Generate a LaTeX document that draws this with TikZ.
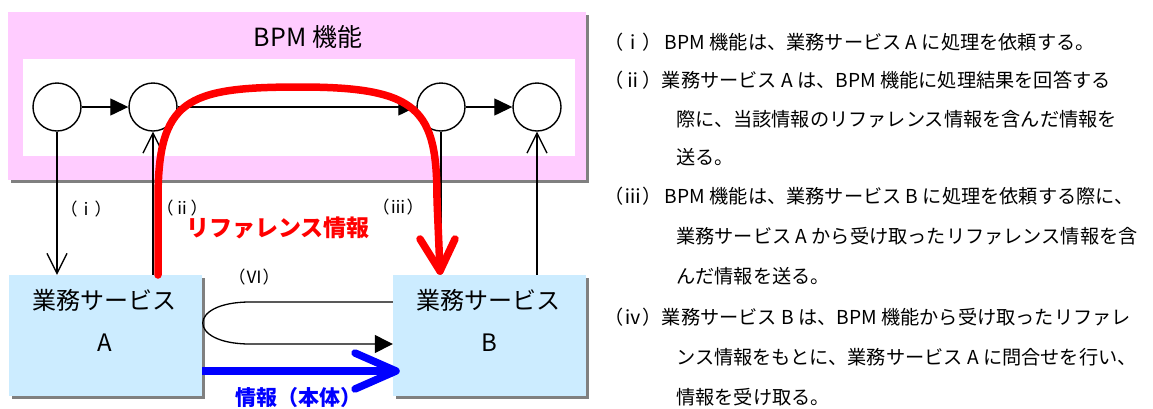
\documentclass[tikz,border=0pt]{standalone}
\usepackage{fontspec}
\setmainfont{Noto Sans CJK JP}
\usetikzlibrary{arrows.meta,shadows}
\definecolor{pinkbg}{RGB}{255,204,255}
\definecolor{bluebox}{RGB}{204,236,255}
\begin{document}
\begin{tikzpicture}[x=1pt,y=-1pt,
  circ/.style={circle, draw, line width=1.4pt, minimum size=48pt, inner sep=0pt},
  svc/.style={rectangle, fill=bluebox, minimum width=193pt, minimum height=121pt, inner sep=0pt,
    drop shadow={shadow xshift=3pt, shadow yshift=-3pt, fill=black!50, opacity=1}},
  svctext/.style={font=\fontsize{24}{28}\selectfont, inner sep=0pt},
  flow/.style={line width=1.3pt, -{Triangle[length=18pt,width=17pt]}},
  req/.style={line width=1.3pt, -{Straight Barb[length=20pt,width=20pt]}},
  lbl/.style={font=\fontsize{17}{20}\selectfont, inner sep=0pt},
  desc/.style={font=\fontsize{19.2}{23}\selectfont, inner sep=0pt, anchor=west},
  bigred/.style={red, line width=7.5pt, line cap=round, line join=round},
  bigblue/.style={blue, line width=7.5pt, line cap=round, line join=round}]
\useasboundingbox (0,0) rectangle (1153,408);
% BPM frame
\fill[black!50] (11,15) rectangle (589,183);
\fill[pinkbg] (8,12) rectangle (586,180);
\fill[white] (23,59) rectangle (575,156);
\node[font=\fontsize{25}{30}\selectfont, inner sep=0pt] (bpm) at (308,37) {BPM 機能};
% circles
\node[circ] (c1) at (57,107) {};
\node[circ] (c2) at (153,107) {};
\node[circ] (c3) at (441,107) {};
\node[circ] (c4) at (537,107) {};
\draw[flow] (c1) -- (c2);
\draw[flow] (c2) -- (c3);
\draw[flow] (c3) -- (c4);
% service boxes
\node[svc] (A) at (105.5,335.5) {};
\node[svc] (B) at (489.5,335.5) {};
\node[svctext] (At) at (104,300) {業務サービス};
\node[svctext] (Al) at (105,343) {A};
\node[svctext] (Bt) at (488,300) {業務サービス};
\node[svctext] (Bl) at (489,343) {B};
% vertical connectors
\draw[req] (c1.south) -- (c1.south |- A.north);
\draw[req] (c2.south |- A.north) -- (c2.south);
\draw[req] (c3.south) -- (c3.south |- B.north);
\draw[req] (c4.south |- B.north) -- (c4.south);
% labels
\node[lbl] (li) at (86,209) {（ⅰ）};
\node[lbl] (lii) at (182,208) {（ⅱ）};
\node[lbl] (liii) at (398,207) {（ⅲ）};
\node[lbl] (lvi) at (254,277) {（Ⅵ）};
% red reference curve
\coordinate (rs) at (158,275);
\coordinate (re) at (440,271);
\draw[bigred] (rs) -- (158,200) .. controls (158,100) and (185,87) .. (300,87)
  .. controls (420,87) and (437,110) .. (437,200) -- (re);
\draw[bigred] (420,239) -- (re) -- (455,239);
\node[text=red, font=\bfseries\fontsize{23}{26}\selectfont, inner sep=0pt] (rt) at (278,228) {リファレンス情報};
% loop (VI)
\draw[line width=1.3pt, -{Triangle[length=18pt,width=18pt]}] (B.west |- 0,302) -- (250,302)
  .. controls (187,302) and (187,344) .. (250,344) -- (B.west |- 0,344);
% blue information arrow
\coordinate (bs) at (202,371);
\coordinate (be) at (396,371);
\draw[bigblue, line cap=butt] (bs) -- (be);
\draw[bigblue] (355,353) -- (be) -- (355,389);
\node[text=blue, font=\bfseries\fontsize{21}{24}\selectfont, inner sep=0pt] (bt) at (298,398) {情報（本体）};
% description
\node[desc] (d1) at (604,42) {（ⅰ）\,BPM 機能は、業務サービス A に処理を依頼する。};
\node[desc] (d2) at (604,80) {（ⅱ）業務サービス A は、BPM 機能に処理結果を回答する};
\node[desc] (d3) at (676,119) {際に、当該情報のリファレンス情報を含んだ情報を};
\node[desc] (d4) at (676,157) {送る。};
\node[desc] (d5) at (604,196) {（ⅲ）\,BPM 機能は、業務サービス B に処理を依頼する際に、};
\node[desc] (d6) at (676,236) {業務サービス A から受け取ったリファレンス情報を含};
\node[desc] (d7) at (676,276) {んだ情報を送る。};
\node[desc] (d8) at (604,317) {（ⅳ）業務サービス B は、BPM 機能から受け取ったリファレ};
\node[desc] (d9) at (676,357) {ンス情報をもとに、業務サービス A に問合せを行い、};
\node[desc] (d10) at (676,397) {情報を受け取る。};
\end{tikzpicture}
\end{document}
